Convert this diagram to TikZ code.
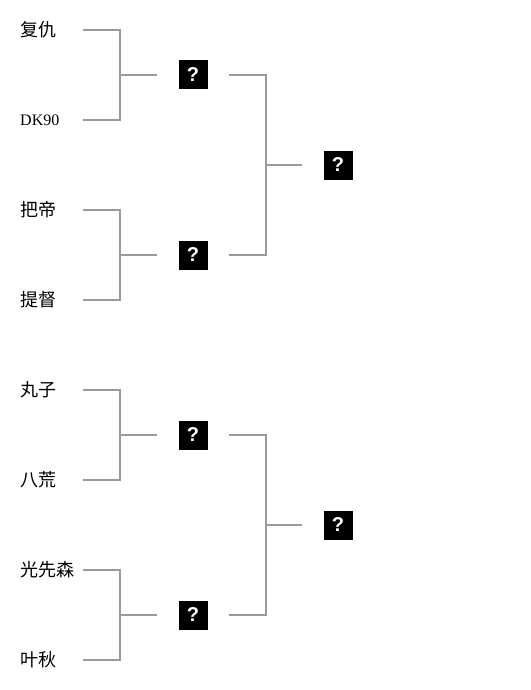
\documentclass[tikz,border=0pt]{standalone}
\usepackage{fontspec}
\setmainfont{Liberation Serif}
\newfontfamily\cjk{Noto Sans CJK SC}
\newfontfamily\qfont{Liberation Sans}
\usetikzlibrary{positioning, calc}
\definecolor{BracketGray}{HTML}{9A9A9A}
\tikzset{
  namebox/.style={anchor=west, inner sep=0pt, text width=63pt, align=left,
    font=\cjk\fontsize{18}{18}\selectfont},
  qbox/.style={fill=black, text=white, minimum size=29pt, inner sep=0pt,
    font=\qfont\bfseries\fontsize{20}{20}\selectfont},
  bline/.style={draw=BracketGray, line width=2pt},
}

\begin{document}
\begin{tikzpicture}[x=1pt, y=-1pt]
    \useasboundingbox (0,0) rectangle (530,690);
    % first round
    \node[namebox] (fuchou) at (20,30) {复仇};
    \node[namebox, font=\fontsize{16}{16}\selectfont] (dk90) at (20,120) {DK90};
    \node[namebox] (badi) at (20,210) {把帝};
    \node[namebox] (tidu) at (20,300) {提督};
    \node[namebox] (wanzi) at (20,390) {丸子};
    \node[namebox] (bahuang) at (20,480) {八荒};
    \node[namebox] (gxs) at (20,570) {光先森};
    \node[namebox] (yeqiu) at (20,660) {叶秋};
    % boxes
    \node[qbox] (qa) at (193,75) {?};
    \node[qbox] (qb) at (193,255) {?};
    \node[qbox] (qc) at (193,435) {?};
    \node[qbox] (qd) at (193,615) {?};
    \node[qbox] (fa) at (338,165) {?};
    \node[qbox] (fb) at (338,525) {?};
    % brackets
    \draw[bline] (fuchou.east) -- ++(37,0) coordinate (ja) |- (dk90.east);
    \draw[bline, shorten >=21pt] (ja |- qa) -- (qa.west);
    \draw[bline] (badi.east) -- ++(37,0) coordinate (jb) |- (tidu.east);
    \draw[bline, shorten >=21pt] (jb |- qb) -- (qb.west);
    \draw[bline] (wanzi.east) -- ++(37,0) coordinate (jc) |- (bahuang.east);
    \draw[bline, shorten >=21pt] (jc |- qc) -- (qc.west);
    \draw[bline] (gxs.east) -- ++(37,0) coordinate (jd) |- (yeqiu.east);
    \draw[bline, shorten >=21pt] (jd |- qd) -- (qd.west);
    \draw[bline, shorten <=21pt, shorten >=21pt] (qa.east) -- ++(58,0) coordinate (je) |- (qb.east);
    \draw[bline, shorten >=21pt] (je |- fa) -- (fa.west);
    \draw[bline, shorten <=21pt, shorten >=21pt] (qc.east) -- ++(58,0) coordinate (jf) |- (qd.east);
    \draw[bline, shorten >=21pt] (jf |- fb) -- (fb.west);
  \end{tikzpicture}
\end{document}
